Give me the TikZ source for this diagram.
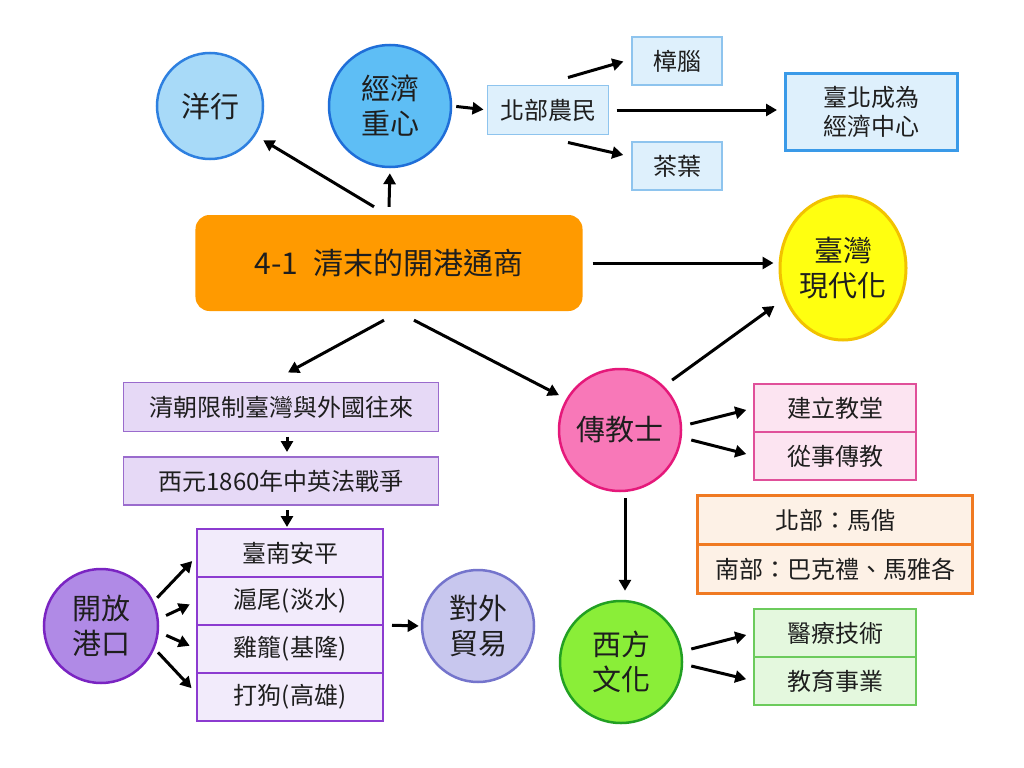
\documentclass[tikz,border=0pt]{standalone}
\usepackage{fontspec}
\setmainfont{Noto Sans CJK TC}
\usepackage{tikz}
\usetikzlibrary{positioning,
  shapes.geometric,
  arrows.meta
}
\definecolor{ink}{HTML}{1E1E1E}
\definecolor{yhfill}{HTML}{A8DAF8}
\definecolor{yhline}{HTML}{2E80E0}
\definecolor{jjfill}{HTML}{5EBEF5}
\definecolor{jjline}{HTML}{1F6ED8}
\definecolor{bluebox}{HTML}{DEF0FC}
\definecolor{blueline}{HTML}{8EC4EE}
\definecolor{tbline}{HTML}{3A9AE8}
\definecolor{mainorange}{HTML}{FF9A00}
\definecolor{ylfill}{HTML}{FFFF10}
\definecolor{ylline}{HTML}{F2C200}
\definecolor{cjfill}{HTML}{F878B8}
\definecolor{cjline}{HTML}{E5187A}
\definecolor{pinkbox}{HTML}{FCE4F1}
\definecolor{pinkline}{HTML}{E0509A}
\definecolor{orbox}{HTML}{FDF1E6}
\definecolor{orline}{HTML}{F07A22}
\definecolor{xffill}{HTML}{8AEE38}
\definecolor{xfline}{HTML}{22A022}
\definecolor{greenbox}{HTML}{E4F8DE}
\definecolor{greenline}{HTML}{6CCB5C}
\definecolor{qcfill}{HTML}{E6D9F6}
\definecolor{qcline}{HTML}{9A6BCD}
\definecolor{portbox}{HTML}{F2EBFB}
\definecolor{portline}{HTML}{8C3BD0}
\definecolor{kffill}{HTML}{B08AE6}
\definecolor{kfline}{HTML}{7A24C2}
\definecolor{dwfill}{HTML}{C8C7EE}
\definecolor{dwline}{HTML}{7474CC}
\newcommand\circfont{\fontsize{29bp}{35bp}\selectfont}
\newcommand\boxfont{\fontsize{24bp}{29bp}\selectfont}
\newcommand\titlefont{\fontsize{30bp}{36bp}\selectfont}

\begin{document}
\begin{tikzpicture}[x=1bp, y=-1bp,
  every node/.style={text=ink},
  circ/.style={circle, line width=2.5bp, inner sep=0pt, align=center, font=\circfont},
  box/.style={rectangle, line width=1.5bp, inner sep=0pt, outer sep=0pt, align=center, font=\boxfont},
  flow/.style={-{Triangle[length=11bp,width=12bp]}, line width=3bp, color=black}]
  \fill[white] (0,0) rectangle (1024,768);
  \useasboundingbox (0,0) rectangle (1024,768);

  \node[circ, minimum size=106bp, fill=yhfill, draw=yhline] (yanghang) at (210,106) {洋行};
  \node[circ, minimum size=122bp, fill=jjfill, draw=jjline] (jingji) at (390,106) {經濟\\重心};
  \node[box, minimum width=121bp, minimum height=49bp, fill=bluebox, draw=blueline] (nongmin) at (548,110) {北部農民};
  \node[box, minimum width=90bp, minimum height=48bp, fill=bluebox, draw=blueline] (zhangnao) at (677,61) {樟腦};
  \node[box, minimum width=90bp, minimum height=48bp, fill=bluebox, draw=blueline] (chaye) at (677,166) {茶葉};
  \node[box, minimum width=172bp, minimum height=77bp, line width=3bp, fill=bluebox, draw=tbline] (taibei) at (871,112) {臺北成為\\經濟中心};

  \node[rectangle, rounded corners=14bp, fill=mainorange, minimum width=387bp, minimum height=96bp, font=\titlefont] (main) at (389,263) {4-1\hspace{0.5em}清末的開港通商};
  \node[ellipse, minimum width=126bp, minimum height=144bp, inner sep=0pt, line width=3bp, fill=ylfill, draw=ylline, align=center, font=\circfont] (xiandai) at (843,268) {臺灣\\現代化};

  \node[circ, minimum size=122bp, fill=cjfill, draw=cjline] (chuanjiao) at (620,430) {傳教士};
  \node[box, minimum width=162bp, minimum height=48bp, fill=pinkbox, draw=pinkline] (jianli) at (835,408) {建立教堂};
  \node[box, minimum width=162bp, minimum height=48bp, fill=pinkbox, draw=pinkline, below=0pt of jianli] (congshi) {從事傳教};
  \node[box, minimum width=275bp, minimum height=49bp, line width=3bp, fill=orbox, draw=orline] (mabei) at (835,520) {北部：馬偕};
  \node[box, minimum width=275bp, minimum height=49bp, line width=3bp, fill=orbox, draw=orline, below=0pt of mabei] (nanbu) {南部：巴克禮、馬雅各};
  \node[circ, minimum size=122bp, fill=xffill, draw=xfline] (xifang) at (621,662) {西方\\文化};
  \node[box, minimum width=162bp, minimum height=48bp, fill=greenbox, draw=greenline] (yiliao) at (835,633) {醫療技術};
  \node[box, minimum width=162bp, minimum height=48bp, fill=greenbox, draw=greenline, below=0pt of yiliao] (jiaoyu) {教育事業};

  \node[box, minimum width=315bp, minimum height=49bp, fill=qcfill, draw=qcline] (qingchao) at (281,407) {清朝限制臺灣與外國往來};
  \node[box, minimum width=315bp, minimum height=48bp, fill=qcfill, draw=qcline] (xiyuan) at (281,481) {西元1860年中英法戰爭};
  \node[box, minimum width=186bp, minimum height=48bp, fill=portbox, draw=portline] (tainan) at (290,553) {臺南安平};
  \node[box, minimum width=186bp, minimum height=48bp, fill=portbox, draw=portline, below=0pt of tainan] (huwei) {滬尾(淡水)};
  \node[box, minimum width=186bp, minimum height=48bp, fill=portbox, draw=portline, below=0pt of huwei] (jilong) {雞籠(基隆)};
  \node[box, minimum width=186bp, minimum height=48bp, fill=portbox, draw=portline, below=0pt of jilong] (dagou) {打狗(高雄)};
  \node[circ, minimum size=114bp, fill=kffill, draw=kfline] (kaifang) at (101,626) {開放\\港口};
  \node[circ, minimum size=112bp, fill=dwfill, draw=dwline] (duiwai) at (478,626) {對外\\貿易};

  \path[flow]
    ([shift={(-15,-8)}]main.north) edge[shorten >=9bp] (yanghang.-33)
    ([shift={(0,-8)}]main.north) edge[shorten >=5bp] (jingji.south)
    (jingji.east) edge[shorten <=4bp, shorten >=4bp] (nongmin.west)
    ([shift={(20,-8)}]nongmin.north) edge[shorten >=9bp] ([shift={(0,-2)}]zhangnao.west)
    ([shift={(20,8)}]nongmin.south) edge[shorten >=9bp] ([shift={(0,-9)}]chaye.west)
    (nongmin.east) edge[shorten <=8bp, shorten >=8bp] (nongmin.east -| taibei.west)
    (main.east) edge[shorten <=10bp, shorten >=5bp] (main.east -| xiandai.west) ;

  \path[flow]
    ([shift={(-5,9)}]main.south) edge ([shift={(7,-10)}]qingchao.north)
    ([shift={(25,9)}]main.south) edge[shorten >=8bp] (chuanjiao.150)
    (chuanjiao.45) edge[shorten <=10bp, shorten >=5bp] ([shift={(0,35)}]xiandai.west)
    ([shift={(8,-6)}]chuanjiao.east) edge[shorten >=8bp] (jianli.west)
    ([shift={(9,10)}]chuanjiao.east) edge[shorten >=8bp] (congshi.west)
    ([shift={(5,6)}]chuanjiao.south) edge ([shift={(4,-9)}]xifang.north)
    ([shift={(8,-13)}]xifang.east) edge[shorten >=8bp] (yiliao.west)
    ([shift={(8,4)}]xifang.east) edge[shorten >=8bp] (jiaoyu.west) ;

  \path[flow]
    ([shift={(6,5)}]qingchao.south) edge ([shift={(6,-5)}]xiyuan.north)
    ([shift={(6,5)}]xiyuan.south) edge ([shift={(-3,-2)}]tainan.north)
    (kaifang.25) edge[shorten <=5bp, shorten >=7bp] ([shift={(0,3)}]tainan.west)
    (kaifang.7) edge[shorten <=8bp, shorten >=8bp] (huwei.west)
    (kaifang.-6) edge[shorten <=8bp, shorten >=8bp] (jilong.west)
    (kaifang.-23) edge[shorten <=5bp, shorten >=8bp] ([shift={(0,-3)}]dagou.west)
    (huwei.south east) edge[shorten <=9bp, shorten >=2bp] (duiwai.west) ;

\end{tikzpicture}
\end{document}
